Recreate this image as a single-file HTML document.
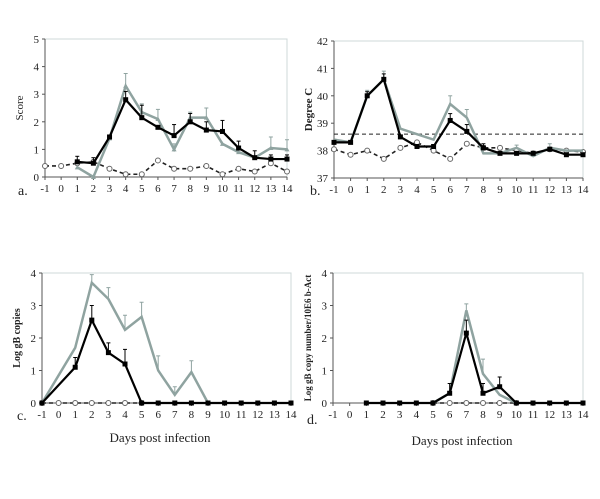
<!DOCTYPE html>
<html><head><meta charset="utf-8"><style>
body{margin:0;background:#fff;font-family:"Liberation Serif",serif}
svg text{font-family:"Liberation Serif",serif;fill:#222}
</style></head><body>
<svg id="c" width="600" height="494" viewBox="0 0 600 494"></svg>
<script>
const days=[-1,0,1,2,3,4,5,6,7,8,9,10,11,12,13,14];
const aGray=[null,null,0.35,0,1.4,3.3,2.35,2.1,1.0,2.15,2.15,1.2,0.9,0.7,1.05,1.0];
const aGrayErr=[0,0,0,0,0,0.45,0.3,0.35,0.2,0.2,0.35,0,0,0,0.4,0.35];
const aBlack=[null,null,0.55,0.5,1.45,2.8,2.15,1.8,1.5,2.0,1.7,1.65,1.05,0.7,0.65,0.65];
const aBlackErr=[0,0,0.2,0.2,0,0.3,0.45,0,0.4,0.3,0.3,0.4,0.25,0.25,0.15,0.15];
const aDash=[0.4,0.4,0.5,0.55,0.3,0.1,0.1,0.6,0.3,0.3,0.4,0.1,0.3,0.2,0.5,0.2];
const bGray=[38.4,38.3,40.0,40.6,38.8,38.6,38.4,39.7,39.2,37.9,37.9,38.1,37.8,38.1,38.0,38.0];
const bGrayErr=[0,0,0.2,0.3,0,0,0,0.3,0.3,0,0,0.1,0,0.15,0,0];
const bBlack=[38.3,38.3,40.0,40.6,38.5,38.15,38.15,39.1,38.7,38.1,37.9,37.9,37.9,38.05,37.85,37.85];
const bBlackErr=[0,0,0.15,0.2,0,0,0,0.25,0.25,0.15,0,0,0,0,0,0];
const bDash=[38.05,37.85,38.0,37.7,38.1,38.3,38.0,37.7,38.25,38.1,38.1,38.0,37.9,38.05,38.0,37.95];
const cGray=[0,null,1.7,3.7,3.2,2.25,2.65,1.0,0.25,0.95,0,null,null,null,null,null];
const cGrayErr=[0,0,0,0.25,0.35,0.45,0.45,0.45,0.25,0.35,0,0,0,0,0,0];
const cBlack=[0,null,1.1,2.55,1.55,1.2,0,0,0,0,0,0,0,0,0,0];
const cBlackErr=[0,0,0.3,0.45,0.3,0.45,0,0,0,0,0,0,0,0,0,0];
const cDash=[0,0,0,0,0,0,0,null,null,null,null,null,null,null,null,null];
const dGray=[null,null,null,null,null,null,0,0.3,2.85,0.9,0.25,0,null,null,null,null];
const dGrayErr=[0,0,0,0,0,0,0,0,0.2,0.45,0,0,0,0,0,0];
const dBlack=[null,null,0,0,0,0,0,0.3,2.15,0.3,0.5,0,0,0,0,0];
const dBlackErr=[0,0,0,0,0,0,0,0.3,0.4,0.3,0.3,0,0,0,0,0];
const dDash=[null,null,null,null,null,null,0,0,0,0,0,0,null,null,null,null];
const aTicks=[0,1,2,3,4,5],bTicks=[37,38,39,40,41,42],cTicks=[0,1,2,3,4];

const svg=document.getElementById('c');const NS='http://www.w3.org/2000/svg';
function mk(t,a,p){const e=document.createElementNS(NS,t);for(const k in a)e.setAttribute(k,a[k]);(p||svg).appendChild(e);return e;}
function panel(o){
  const g=mk('g',{});
  
  
  const X=d=>o.x0+(d+1)*(o.x1-o.x0)/15;
  const Y=v=>o.y0-(v-o.ymin)*(o.y0-o.y1)/(o.ymax-o.ymin);
  const fr=mk('rect',{x:o.x0,y:o.y1,width:o.x1-o.x0,height:o.y0-o.y1,fill:'none',stroke:'#cfd8d8','stroke-width':1},g);
  
  mk('line',{x1:o.x0,y1:o.y1,x2:o.x0,y2:o.y0,stroke:'#555'},g);
  mk('line',{x1:o.x0,y1:o.y0,x2:o.x1,y2:o.y0,stroke:'#555'},g);
  o.ticks.forEach(t=>{mk('line',{x1:o.x0-3,x2:o.x0,y1:Y(t),y2:Y(t),stroke:'#555'},g);
    const tx=mk('text',{x:o.x0-6,y:Y(t)+4,'text-anchor':'end','font-size':11},g);tx.textContent=t;
    });
  days.forEach(d=>{mk('line',{x1:X(d),x2:X(d),y1:o.y0,y2:o.y0+3,stroke:'#555'},g);
    const tx=mk('text',{x:X(d),y:o.y0+15,'text-anchor':'middle','font-size':11},g);tx.textContent=d;
    });
  const yl=mk('text',{x:0,y:0,'text-anchor':'middle','font-size':o.ylfs||11,'font-weight':o.ylb?'bold':'normal',transform:`translate(${o.x0-22},${(o.y0+o.y1)/2}) rotate(-90)`},g);
  yl.textContent=o.ylabel;
  const lt=mk('text',{x:o.lx,y:o.ly,'font-size':14},g);lt.textContent=o.letter;
  
  if(o.thresh!=null)mk('line',{x1:o.x0,x2:o.x1,y1:Y(o.thresh),y2:Y(o.thresh),stroke:'#222','stroke-dasharray':'4,3'},g);
  function series(vals,err,col,w,dash,marker,name){
    const sg=mk('g',{},g);
    if(err)vals.forEach((v,i)=>{if(v==null||!err[i])return;const x=X(days[i]);
      mk('line',{x1:x,x2:x,y1:Y(v),y2:Y(v+err[i]),stroke:col,'stroke-width':1},sg);
      mk('line',{x1:x-2,x2:x+2,y1:Y(v+err[i]),y2:Y(v+err[i]),stroke:col,'stroke-width':1},sg);});
    let pts=[];vals.forEach((v,i)=>{if(v!=null)pts.push(X(days[i])+','+Y(v));});
    const pl=mk('polyline',{points:pts.join(' '),fill:'none',stroke:col,'stroke-width':w,'stroke-dasharray':dash||'none'},sg);
    
    vals.forEach((v,i)=>{if(v==null)return;const x=X(days[i]),y=Y(v);let m;
      if(marker=='sq')m=mk('rect',{x:x-2.5,y:y-2.5,width:5,height:5,fill:'#000'},sg);
      else if(marker=='o')m=mk('circle',{cx:x,cy:y,r:2.5,fill:'#fff',stroke:'#666'},sg);
      else if(marker=='tri')m=mk('path',{d:`M${x-2.5} ${y+2}L${x+2.5} ${y+2}L${x} ${y-2.5}Z`,fill:col},sg);
      if(m){}});
  }
  series(o.dash,null,'#222',1.6,'4,3','o',o.name+'-mock-series');
  series(o.gray,o.grayErr,'#8fa3a0',2.5,null,o.grayMarker,o.name+'-gray-series');
  series(o.black,o.blackErr,'#000',2.2,null,'sq',o.name+'-black-series');
}
panel({name:'panel-a-score',x0:45,x1:287,y0:177,y1:39,ymin:0,ymax:5,ticks:aTicks,ylabel:'Score',letter:'a.',lx:18,ly:195,gray:aGray,grayErr:aGrayErr,black:aBlack,blackErr:aBlackErr,dash:aDash,grayMarker:'tri'});
panel({name:'panel-b-temperature',x0:334,x1:583,y0:178,y1:41,ymin:37,ymax:42,ticks:bTicks,ylabel:'Degree C',ylb:true,letter:'b.',lx:310,ly:195,thresh:38.6,gray:bGray,grayErr:bGrayErr,black:bBlack,blackErr:bBlackErr,dash:bDash,grayMarker:'none'});
panel({name:'panel-c-nasal',x0:42,x1:291,y0:403,y1:273,ymin:0,ymax:4,ticks:cTicks,ylabel:'Log gB copies',ylb:true,ylfs:10,letter:'c.',lx:17,ly:420,gray:cGray,grayErr:cGrayErr,black:cBlack,blackErr:cBlackErr,dash:cDash,grayMarker:'none'});
panel({name:'panel-d-blood',x0:333,x1:583,y0:403,y1:273,ymin:0,ymax:4,ticks:cTicks,ylabel:'Log gB copy number/10E6 b-Act',ylb:true,ylfs:9,letter:'d.',lx:307,ly:424,gray:dGray,grayErr:dGrayErr,black:dBlack,blackErr:dBlackErr,dash:dDash,grayMarker:'none'});
[[160,442,'x-axis-title-c'],[462,445,'x-axis-title-d']].forEach(p=>{const t=mk('text',{x:p[0],y:p[1],'text-anchor':'middle','font-size':13});t.textContent='Days post infection';
});
</script>
</body></html>
